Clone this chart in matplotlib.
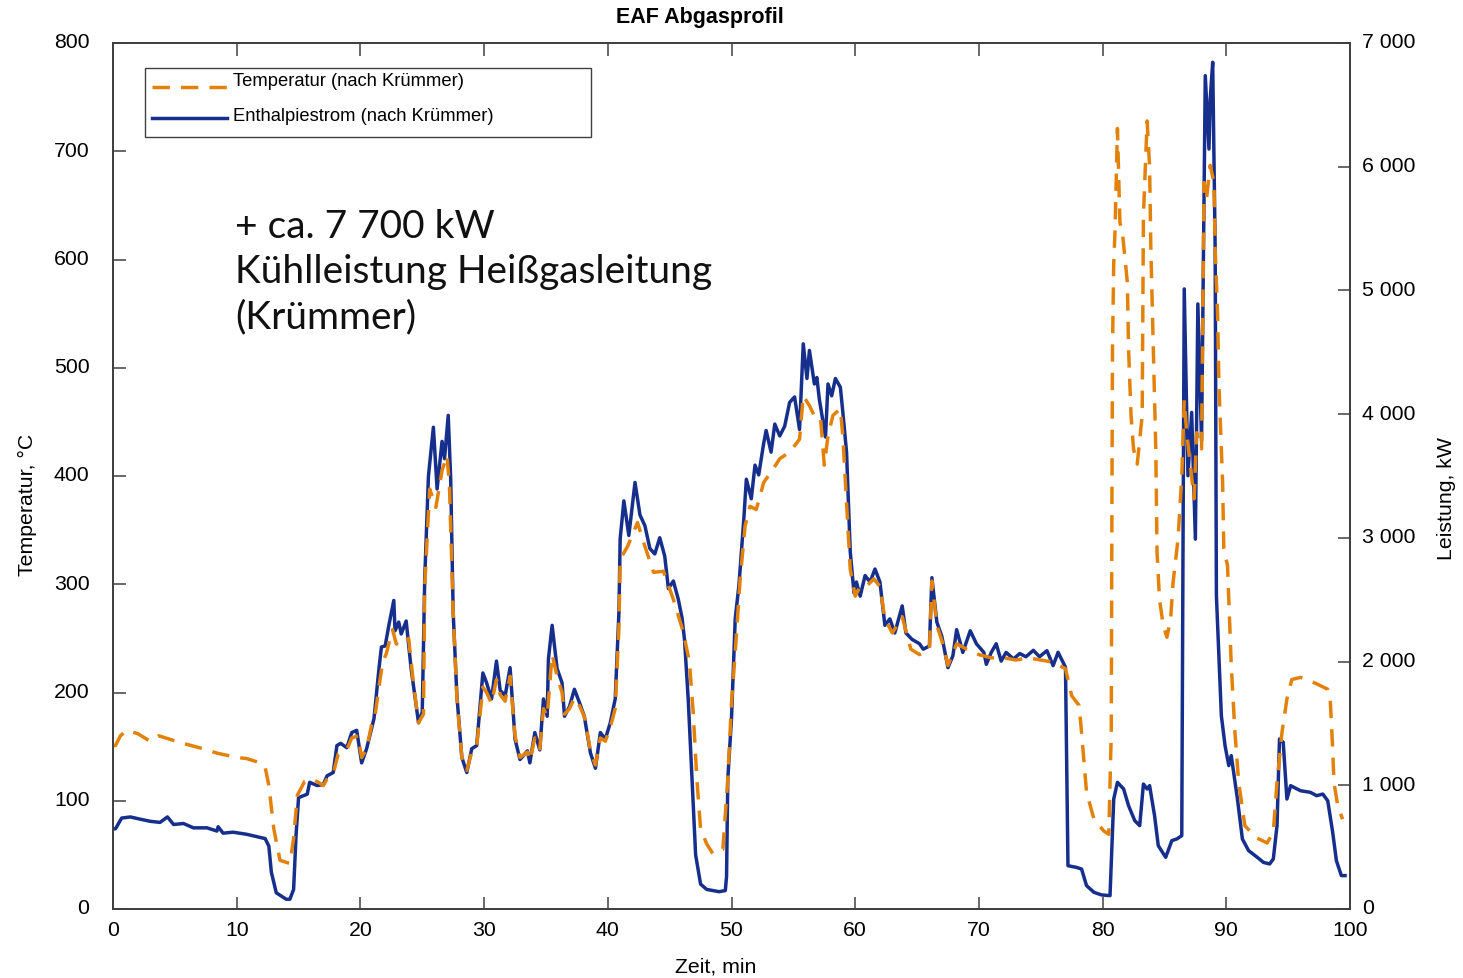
import matplotlib
matplotlib.use("Agg")
import matplotlib.pyplot as plt
import matplotlib.transforms as mtransforms
from matplotlib.patches import Rectangle
from matplotlib.lines import Line2D
from matplotlib.ticker import FuncFormatter

# ---- data -------------------------------------------------------------
# Enthalpiestrom (nach Krümmer), kW  (right axis)
t_power = [0.0, 0.2, 0.7, 1.4, 2.2, 3.0, 3.8, 4.4, 4.9, 5.7, 6.5, 7.6, 8.4, 8.5, 8.9,
           9.7, 10.8, 11.9, 12.3, 12.6, 12.8, 13.2, 14.0, 14.3, 14.6, 14.8, 15.0, 15.7,
           15.9, 16.5, 17.0, 17.3, 17.8, 18.1, 18.4, 18.9, 19.3, 19.7, 20.1, 20.5, 21.1,
           21.5, 21.7, 22.0, 22.3, 22.7, 22.8, 23.1, 23.3, 23.7, 24.1, 24.4, 24.7, 25.0,
           25.2, 25.5, 25.9, 26.2, 26.6, 26.8, 27.1, 27.3, 27.5, 27.8, 28.2, 28.6, 29.0,
           29.4, 29.9, 30.2, 30.6, 31.0, 31.3, 31.7, 32.1, 32.5, 32.9, 33.5, 33.7, 34.1,
           34.5, 34.8, 35.1, 35.2, 35.5, 35.9, 36.3, 36.5, 36.9, 37.3, 37.7, 38.1, 38.6,
           39.0, 39.4, 39.8, 40.2, 40.6, 40.9, 41.0, 41.3, 41.7, 42.2, 42.6, 43.0, 43.4,
           43.8, 44.2, 44.6, 44.9, 45.3, 45.7, 46.0, 46.2, 46.5, 46.8, 47.1, 47.5, 48.0,
           49.0, 49.5, 49.6, 49.7, 50.0, 50.3, 50.6, 51.0, 51.2, 51.6, 51.9, 52.2, 52.6,
           52.8, 53.2, 53.5, 53.9, 54.3, 54.7, 55.1, 55.5, 55.8, 56.1, 56.3, 56.7, 56.9,
           57.1, 57.6, 57.8, 58.1, 58.4, 58.8, 59.0, 59.3, 59.6, 59.9, 60.1, 60.4, 60.8,
           61.2, 61.6, 62.0, 62.4, 62.8, 63.2, 63.8, 64.1, 64.6, 65.2, 65.5, 66.0, 66.2,
           66.6, 67.0, 67.5, 67.9, 68.2, 68.7, 69.3, 69.8, 70.4, 70.6, 71.0, 71.4, 71.8,
           72.2, 72.8, 73.3, 73.8, 74.4, 74.9, 75.5, 76.0, 76.4, 77.0, 77.2, 77.9, 78.3,
           78.7, 79.3, 79.9, 80.6, 80.9, 81.2, 81.7, 82.1, 82.6, 83.0, 83.3, 83.6, 83.8,
           84.2, 84.5, 85.1, 85.6, 86.0, 86.4, 86.5, 86.6, 86.9, 87.2, 87.5, 87.7, 88.0,
           88.3, 88.6, 88.7, 88.9, 89.1, 89.2, 89.6, 89.9, 90.2, 90.4, 90.9, 91.3, 91.8,
           92.5, 93.0, 93.5, 93.8, 94.1, 94.3, 94.6, 94.9, 95.2, 96.0, 96.8, 97.3, 97.8,
           98.2, 98.6, 98.9, 99.3, 99.6]
power_kw = [648, 648, 735, 744, 726, 709, 700, 744, 683, 691, 656, 656, 630, 665, 613,
            621, 604, 578, 569, 508, 298, 131, 79, 79, 158, 600, 900, 928,
            1024, 998, 1006, 1076, 1103, 1321, 1339, 1304, 1426, 1444, 1181, 1295, 1540,
            1943, 2118, 2126, 2293, 2494, 2249, 2319, 2223, 2328, 1943, 1724, 1505, 1593,
            2669, 3500, 3894, 3395, 3780, 3640, 3990, 3474, 2398, 1724, 1225, 1103, 1295,
            1321, 1908, 1829, 1698, 2004, 1768, 1724, 1951, 1374, 1208, 1278, 1181, 1426,
            1286, 1698, 1558, 2021, 2293, 1943, 1829, 1558, 1636, 1776, 1671, 1558, 1260,
            1138, 1426, 1374, 1505, 1698, 2398, 2993, 3299, 3019, 3448, 3185, 3098, 2914,
            2870, 3001, 2853, 2590, 2651, 2503, 2354, 2179, 1698, 1076, 438, 201, 158,
            140, 149, 263, 1050, 1540, 2345, 2616, 3159, 3474, 3316, 3588, 3509, 3763,
            3868, 3693, 3920, 3824, 3903, 4095, 4139, 3876, 4568, 4288, 4515, 4244, 4296,
            4121, 3815, 4244, 4148, 4288, 4218, 4016, 3693, 2888, 2555, 2643, 2529, 2695,
            2643, 2748, 2643, 2293, 2345, 2231, 2450, 2231, 2179, 2144, 2100, 2126, 2678,
            2319, 2205, 1951, 2048, 2258, 2074, 2249, 2144, 2074, 1978, 2074, 2144, 2004,
            2074, 2021, 2065, 2039, 2091, 2039, 2088, 1967, 2075, 1954, 350, 336, 323,
            189, 135, 114, 108, 889, 1024, 970, 835, 714, 674, 1010, 970, 997,
            755, 512, 418, 553, 566, 593, 2910, 5012, 3502, 4014, 2990, 4891, 3786,
            6736, 6143, 6547, 6844, 5335, 2533, 1563, 1320, 1159, 1240, 890, 566, 472,
            418, 377, 364, 404, 674, 1374, 1347, 889, 997, 956, 943, 916, 929,
            875, 620, 391, 270, 270]

# Temperatur (nach Krümmer), °C  (left axis)
t_temp = [0.0, 0.2, 0.6, 1.1, 2.0, 3.0, 3.7, 5.1, 6.0, 7.3, 8.4, 10.0, 10.8, 11.9, 12.3,
          12.6, 13.0, 13.5, 14.3, 14.6, 14.9, 15.5, 16.1, 16.6, 17.0, 17.3, 17.8, 18.2,
          18.9, 19.3, 19.8, 20.1, 20.5, 20.9, 21.2, 21.5, 21.8, 22.1, 22.4, 22.6, 22.9,
          23.2, 23.9, 24.3, 24.7, 25.1, 25.2, 25.6, 26.1, 26.6, 27.0, 27.2, 27.5, 27.8,
          28.2, 28.6, 29.0, 29.4, 29.9, 30.2, 30.6, 31.0, 31.3, 31.7, 32.1, 32.5, 32.9,
          33.5, 33.7, 34.1, 34.5, 34.8, 35.1, 35.5, 35.9, 36.3, 36.5, 36.9, 37.3, 37.7,
          38.1, 38.6, 39.0, 39.4, 39.8, 40.2, 40.6, 40.9, 41.0, 41.6, 42.4, 43.0, 43.7,
          44.5, 45.3, 46.1, 46.6, 46.9, 47.2, 47.5, 48.0, 48.5, 49.3, 49.7, 50.0, 50.3,
          50.7, 51.1, 51.5, 52.0, 52.6, 53.4, 53.9, 54.7, 55.5, 55.8, 56.3, 56.8, 57.2,
          57.5, 57.8, 58.2, 58.8, 59.0, 59.3, 59.6, 60.0, 60.4, 60.9, 61.5, 62.0, 62.4,
          63.0, 63.8, 64.5, 65.2, 66.0, 66.2, 66.6, 67.0, 67.5, 68.2, 69.0, 70.0, 71.0,
          72.0, 73.0, 74.0, 75.0, 76.0, 77.0, 77.5, 78.1, 78.3, 78.7, 79.3, 80.1, 80.5,
          80.7, 80.75, 80.8, 80.9, 81.0, 81.2, 81.4, 81.6, 82.0, 82.1, 82.3, 82.5, 82.8,
          83.2, 83.25, 83.3, 83.6, 83.8, 83.9, 84.1, 84.3, 84.4, 84.6, 84.9, 85.2, 85.5,
          85.7, 86.1, 86.4, 86.6, 86.8, 87.1, 87.4, 87.6, 88.0, 88.2, 88.4, 88.7, 89.0,
          89.1, 89.3, 89.4, 89.7, 89.8, 90.1, 90.4, 90.7, 91.0, 91.5, 92.4, 93.3, 93.8,
          94.1, 94.5, 94.9, 95.3, 96.0, 96.5, 97.3, 98.2, 98.4, 98.6, 98.7, 99.0, 99.4]
temp_c = [151, 151, 160, 165, 162, 155, 160, 155, 152, 148, 144, 140, 139, 135, 131,
          114, 74, 45, 42, 65, 105, 118, 120, 117, 114, 120, 125, 143,
          147, 158, 160, 140, 148, 170, 180, 205, 228, 236, 250, 258, 245,
          243, 250, 207, 172, 180, 298, 388, 371, 405, 419, 391, 274, 195,
          140, 128, 145, 150, 205, 200, 190, 212, 198, 192, 215, 160, 140,
          145, 137, 158, 148, 185, 178, 235, 215, 200, 180, 185, 195, 188,
          178, 146, 133, 158, 155, 168, 185, 260, 323, 335, 357, 335, 311,
          312, 286, 256, 228, 182, 120, 74, 60, 51, 55, 120, 190, 237,
          305, 354, 372, 369, 394, 407, 416, 422, 434, 474, 465, 453, 453,
          410, 437, 456, 462, 437, 376, 314, 289, 298, 298, 305, 298, 268,
          255, 270, 240, 235, 240, 303, 262, 248, 225, 245, 240, 235, 232,
          232, 230, 232, 230, 228, 222, 197, 188, 163, 108, 83, 72, 69,
          163, 363, 517, 597, 625, 721, 634, 625, 579, 517, 456, 425, 411,
          456, 548, 640, 728, 686, 610, 517, 425, 330, 286, 262, 251, 268,
          302, 342, 400, 470, 440, 409, 379, 440, 425, 671, 656, 687, 671,
          610, 548, 486, 394, 333, 317, 225, 163, 117, 77, 66, 61, 71,
          117, 163, 194, 212, 214, 212, 208, 203, 194, 148, 117, 96, 83]

x_ticks = [0, 10, 20, 30, 40, 50, 60, 70, 80, 90, 100]
temp_ticks = [0, 100, 200, 300, 400, 500, 600, 700, 800]
power_ticks = [0, 1000, 2000, 3000, 4000, 5000, 6000, 7000]

title = "EAF Abgasprofil"
x_label = "Zeit, min"
y_label_left = "Temperatur, °C"
y_label_right = "Leistung, kW"
label_temp = "Temperatur (nach Krümmer)"
label_power = "Enthalpiestrom (nach Krümmer)"
note = "+ ca. 7 700 kW\nKühlleistung Heißgasleitung\n(Krümmer)"

# ---- style ------------------------------------------------------------
plt.rcParams['font.family'] = ['Liberation Sans', 'DejaVu Sans']
BLUE = '#172f8c'
ORANGE = '#e3820b'
SPINE = '#404040'
W, H = 1463, 979
L, R, T, B = 113, 1350, 44, 910

fig = plt.figure(figsize=(W / 100, H / 100), dpi=100)
ax = fig.add_axes([L / W, 1 - B / H, (R - L) / W, (B - T) / H])
ax2 = ax.twinx()

l1, = ax.plot(t_temp, temp_c, color=ORANGE, lw=2.5, dashes=(5, 3.2), zorder=2)
l2, = ax2.plot(t_power, power_kw, color=BLUE, lw=2.5, zorder=3)

ax.set_xlim(0, 100)
ax.set_ylim(0, 800)
ax2.set_ylim(0, 7000)
ax.set_xticks(x_ticks)
ax.set_yticks(temp_ticks)
ax2.set_yticks(power_ticks)
ax2.yaxis.set_major_formatter(FuncFormatter(lambda v, p: f"{int(v):,}".replace(",", " ")))

for a in (ax, ax2):
    for s in a.spines.values():
        s.set_color(SPINE)
        s.set_linewidth(1.3)

FS = 15.3
ax.tick_params(axis='x', direction='in', length=9, width=1.1, color=SPINE,
               labelsize=FS, pad=8, top=True)
ax.tick_params(axis='y', direction='in', length=9, width=1.1, color=SPINE,
               labelsize=FS, pad=17, right=False)
ax2.tick_params(axis='y', direction='in', length=9, width=1.1, color=SPINE,
                labelsize=FS, pad=9)

# tick labels in the reference sit a few pixels above their ticks
shift_up = mtransforms.ScaledTranslation(0, 3 / 100, fig.dpi_scale_trans)
for lab in ax.get_yticklabels() + ax2.get_yticklabels():
    lab.set_transform(lab.get_transform() + shift_up)

fig.text(700 / W, 1 - 18 / H, title, fontsize=15.5, fontweight='bold',
         ha='center', va='center')
ax.set_xlabel(x_label, fontsize=FS)
ax.xaxis.set_label_coords((716 - L) / (R - L), -(967 - B) / (B - T))
ax.xaxis.label.set_va('center')
ax.set_ylabel(y_label_left, fontsize=FS)
ax.yaxis.set_label_coords(-(L - 27) / (R - L), (B - 505) / (B - T))
ax.yaxis.label.set_va('center')
ax2.set_ylabel(y_label_right, fontsize=FS, rotation=90)
ax2.yaxis.set_label_coords((1447 - L) / (R - L), (B - 499) / (B - T))
ax2.yaxis.label.set_va('center')

ax.set_zorder(ax2.get_zorder() + 1)
ax.patch.set_visible(False)

# legend (box wider than its text, as in the reference)
box = Rectangle((145 / W, 1 - 138 / H), (591 - 145) / W, (138 - 69) / H,
                transform=fig.transFigure, facecolor='white', edgecolor=SPINE,
                linewidth=1.0, zorder=5)
fig.add_artist(box)
for y_line, y_text, lab, ln in ((88, 81, label_temp, l1), (119, 117, label_power, l2)):
    kw = dict(color=ln.get_color(), lw=2.5, transform=fig.transFigure, zorder=6)
    if ln is l1:
        kw['dashes'] = (5, 3.2)
    fig.add_artist(Line2D([152 / W, 227 / W], [1 - y_line / H, 1 - y_line / H], **kw))
    fig.text(233 / W, 1 - y_text / H, lab, fontsize=13.2, va='center',
             ha='left', zorder=7)

fig.text(235 / W, 1 - 272 / H, note, fontsize=28, family=['Lato', 'DejaVu Sans'],
         va='center', ha='left', linespacing=1.31, color='#111111')

fig.savefig("out.png", dpi=100)
